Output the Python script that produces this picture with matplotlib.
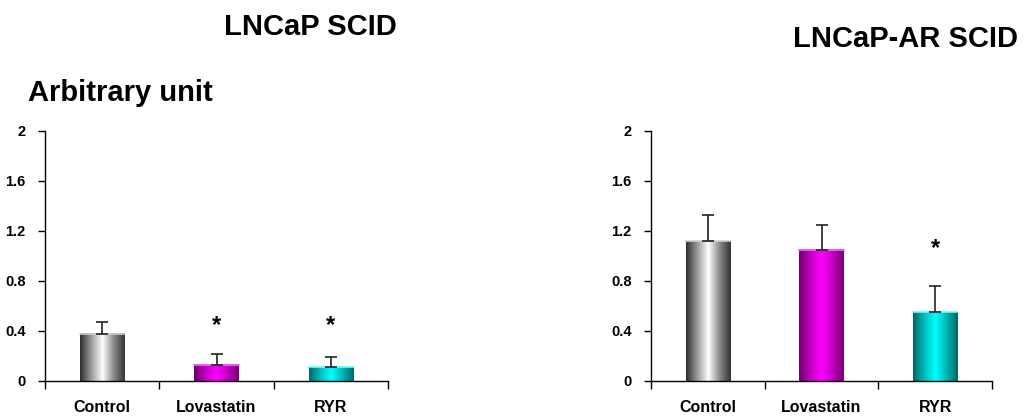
import numpy as np
import matplotlib
matplotlib.use("Agg")
import matplotlib.pyplot as plt
from matplotlib.colors import LinearSegmentedColormap

plt.rcParams['font.family'] = ['Liberation Sans', 'DejaVu Sans']
plt.rcParams['font.weight'] = 'bold'

groups = ["Control", "Lovastatin", "RYR"]
panel_titles = ["LNCaP SCID", "LNCaP-AR SCID"]

# mean values and upper error (SE)
lncap_vals = [0.38, 0.13, 0.11]
lncap_err = [0.095, 0.09, 0.08]
lncap_star = [None, 0.44, 0.44]

lncap_ar_vals = [1.12, 1.05, 0.55]
lncap_ar_err = [0.21, 0.20, 0.21]
lncap_ar_star = [None, None, 1.06]

yticks = [0, 0.4, 0.8, 1.2, 1.6, 2]
ytick_labels = ["0", "0.4", "0.8", "1.2", "1.6", "2"]

# cylinder-like gradients: dark edge -> bright middle -> dark edge
grads = [
    ["#2e2e2e", "#9a9a9a", "#ffffff", "#8a8a8a", "#333333"],
    ["#6e006e", "#c000c0", "#ff00ff", "#c000c0", "#770077"],
    ["#006666", "#00bcbc", "#00ffff", "#00b4b4", "#006868"],
]
edges = ["#d0d0d0", "#ff66ff", "#66ffff"]


def draw_panel(ax, vals, err, stars):
    x = np.arange(len(groups))
    bars = ax.bar(x, vals, width=0.39, color="none", edgecolor="none", zorder=2)
    for i, b in enumerate(bars):
        cmap = LinearSegmentedColormap.from_list("g%d" % i, grads[i])
        x0, y0 = b.get_x(), b.get_y()
        w, h = b.get_width(), b.get_height()
        grad = np.linspace(0, 1, 256).reshape(1, -1)
        ax.imshow(grad, cmap=cmap, extent=[x0, x0 + w, y0, y0 + h],
                  aspect="auto", zorder=2, interpolation="bilinear")
        ax.plot([x0, x0 + w], [y0 + h, y0 + h], color=edges[i], lw=1.2, zorder=3)
    ax.errorbar(x, vals, yerr=[np.zeros(len(vals)), err], fmt="none",
                ecolor="#222222", elinewidth=1.2, capsize=4, capthick=1.2, zorder=4)
    for i, s in enumerate(stars):
        if s is not None:
            ax.text(x[i], s, "*", ha="center", va="center", fontsize=17,
                    fontweight="bold", color="black")

    ax.set_xlim(-0.5, 2.5)
    ax.set_ylim(0, 2)
    ax.set_yticks(yticks)
    ax.set_yticklabels(ytick_labels, fontsize=10.5, fontweight="bold")
    ax.set_xticks([-0.5, 0.5, 1.5, 2.5])
    ax.set_xticklabels([])
    ax.set_xticks(x, minor=True)
    ax.set_xticklabels(groups, minor=True, fontsize=11.5, fontweight="bold")
    ax.tick_params(axis="x", which="minor", length=0, pad=14)
    ax.tick_params(axis="x", which="major", length=6, width=1, direction="out")
    ax.tick_params(axis="y", length=5, width=1, direction="out", pad=9)
    for sp in ["top", "right"]:
        ax.spines[sp].set_visible(False)
    for sp in ["left", "bottom"]:
        ax.spines[sp].set_linewidth(1)
        ax.spines[sp].set_color("black")


fig = plt.figure(figsize=(10.26, 4.18), dpi=100)
ax1 = fig.add_axes([45 / 1026, 1 - 381 / 418, 343 / 1026, 250 / 418])
ax2 = fig.add_axes([651 / 1026, 1 - 381 / 418, 341 / 1026, 250 / 418])

draw_panel(ax1, lncap_vals, lncap_err, lncap_star)
draw_panel(ax2, lncap_ar_vals, lncap_ar_err, lncap_ar_star)

fig.text(310 / 1026, 1 - 35 / 418, panel_titles[0], ha="center", va="baseline",
         fontsize=21, fontweight="bold")
fig.text(1018 / 1026, 1 - 47 / 418, panel_titles[1], ha="right", va="baseline",
         fontsize=21, fontweight="bold")
fig.text(28 / 1026, 1 - 101 / 418, "Arbitrary unit", ha="left", va="baseline",
         fontsize=21, fontweight="bold")

fig.savefig("out.png", dpi=100)
